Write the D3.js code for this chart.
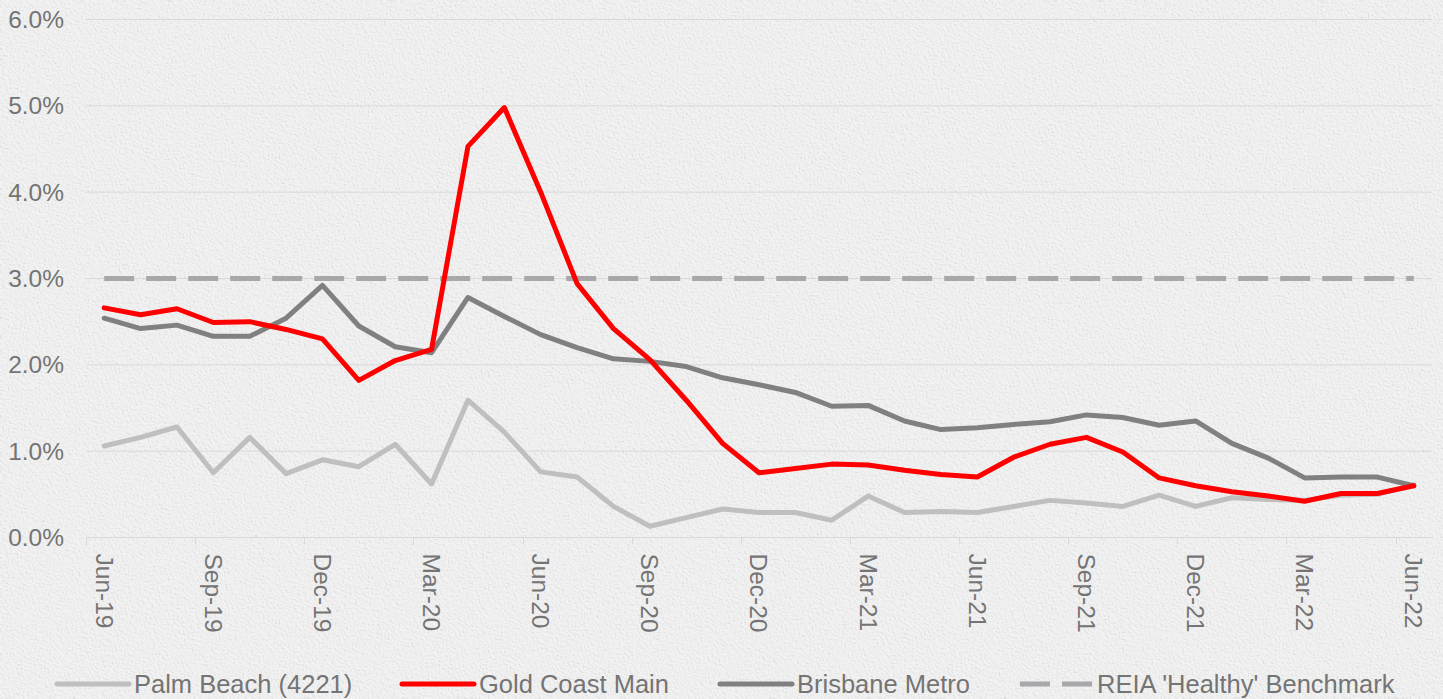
<!DOCTYPE html>
<html>
<head>
<meta charset="utf-8">
<script src="https://cdn.jsdelivr.net/npm/d3@7/dist/d3.min.js"></script>
<style>
  html, body { margin: 0; padding: 0; background: #eeeeee; }
  #chart { width: 1443px; height: 699px; }
  text { font-family: "Liberation Sans", Arial, sans-serif; }
</style>
</head>
<body>
<div id="chart"></div>
<script>
// months (categories)
var months = [
  "Jun-19", "Jul-19", "Aug-19", "Sep-19", "Oct-19", "Nov-19", "Dec-19", "Jan-20", "Feb-20",
  "Mar-20", "Apr-20", "May-20", "Jun-20", "Jul-20", "Aug-20", "Sep-20", "Oct-20", "Nov-20",
  "Dec-20", "Jan-21", "Feb-21", "Mar-21", "Apr-21", "May-21", "Jun-21", "Jul-21", "Aug-21",
  "Sep-21", "Oct-21", "Nov-21", "Dec-21", "Jan-22", "Feb-22", "Mar-22", "Apr-22", "May-22",
  "Jun-22"
];

// labels shown on the axis (every quarter)
var tickLabels = ["Jun-19", "Sep-19", "Dec-19", "Mar-20", "Jun-20", "Sep-20", "Dec-20",
  "Mar-21", "Jun-21", "Sep-21", "Dec-21", "Mar-22", "Jun-22"];

var yTicks = [0, 1, 2, 3, 4, 5, 6];

// vacancy rates, %
var palmBeach = [1.06, 1.16, 1.28, 0.75, 1.16, 0.74, 0.90, 0.82, 1.08, 0.62, 1.59, 1.22, 0.76,
  0.70, 0.36, 0.13, 0.23, 0.33, 0.29, 0.29, 0.20, 0.48, 0.29, 0.30, 0.29, 0.36, 0.43, 0.40,
  0.36, 0.49, 0.36, 0.46, 0.44, 0.43, 0.49, 0.50, 0.61];

var goldCoast = [2.66, 2.58, 2.65, 2.49, 2.50, 2.41, 2.30, 1.82, 2.05, 2.18, 4.53, 4.98, 4.00,
  2.94, 2.42, 2.06, 1.59, 1.09, 0.75, 0.80, 0.85, 0.84, 0.78, 0.73, 0.70, 0.93, 1.08, 1.16,
  0.99, 0.69, 0.60, 0.53, 0.48, 0.42, 0.51, 0.51, 0.60];

var brisbane = [2.54, 2.42, 2.46, 2.33, 2.33, 2.54, 2.92, 2.45, 2.21, 2.14, 2.78, 2.56, 2.35,
  2.20, 2.07, 2.04, 1.98, 1.85, 1.77, 1.68, 1.52, 1.53, 1.35, 1.25, 1.27, 1.31, 1.34, 1.42,
  1.39, 1.30, 1.35, 1.09, 0.92, 0.69, 0.70, 0.70, 0.60];

var benchmark = months.map(function () { return 3.0; });

var seriesNames = ["Palm Beach (4221)", "Gold Coast Main", "Brisbane Metro", "REIA 'Healthy' Benchmark"];

var width = 1443, height = 699;
var margin = { top: 19.5, right: 11, bottom: 161.5, left: 86 };

var svg = d3.select("#chart")
  .append("svg")
  .attr("width", width)
  .attr("height", height)
  .attr("viewBox", [0, 0, width, height]);

// stucco-like background
var defs = svg.append("defs");
var f = defs.append("filter").attr("id", "paper")
  .attr("x", 0).attr("y", 0).attr("width", "100%").attr("height", "100%");
f.append("feTurbulence").attr("type", "fractalNoise").attr("baseFrequency", 0.55)
  .attr("numOctaves", 4).attr("seed", 3).attr("result", "noise");
f.append("feDiffuseLighting").attr("in", "noise").attr("lighting-color", "#ffffff")
  .attr("surfaceScale", 1.6).attr("result", "lit")
  .append("feDistantLight").attr("azimuth", 135).attr("elevation", 62);

svg.append("rect").attr("width", width).attr("height", height).attr("fill", "#efefef");
svg.append("rect").attr("width", width).attr("height", height)
  .attr("filter", "url(#paper)").attr("opacity", 0.3);

var x = d3.scaleBand()
  .domain(months)
  .range([margin.left, width - margin.right])
  .padding(0);

var y = d3.scaleLinear()
  .domain([0, 6])
  .range([height - margin.bottom, margin.top]);

var cx = function (m) { return x(m) + x.bandwidth() / 2; };

// gridlines
svg.append("g")
  .selectAll("line")
  .data(yTicks)
  .join("line")
  .attr("x1", margin.left)
  .attr("x2", width - margin.right)
  .attr("y1", function (d) { return y(d); })
  .attr("y2", function (d) { return y(d); })
  .attr("stroke", "#d9d9d9")
  .attr("stroke-width", 1);

// y labels
svg.append("g")
  .selectAll("text")
  .data(yTicks)
  .join("text")
  .attr("x", 64)
  .attr("y", function (d) { return y(d); })
  .attr("dy", "0.35em")
  .attr("text-anchor", "end")
  .attr("fill", "#747474")
  .attr("font-size", 24.5)
  .text(function (d) { return d3.format(".1f")(d) + "%"; });

// x axis tick marks at quarter band edges
svg.append("g")
  .selectAll("line")
  .data(tickLabels)
  .join("line")
  .attr("x1", function (d) { return Math.round(x(d)) + 0.5; })
  .attr("x2", function (d) { return Math.round(x(d)) + 0.5; })
  .attr("y1", y(0))
  .attr("y2", y(0) + 7)
  .attr("stroke", "#d9d9d9");

// x labels, rotated
var xAxis = d3.axisBottom(x).tickValues(tickLabels).tickSize(0).tickPadding(0);
var gx = svg.append("g")
  .attr("transform", "translate(0," + (y(0) + 16) + ")")
  .call(xAxis);
gx.select(".domain").remove();
gx.selectAll("text")
  .attr("transform", "rotate(90)")
  .attr("x", 0)
  .attr("y", 0)
  .attr("dy", "0.35em")
  .attr("text-anchor", "start")
  .attr("fill", "#747474")
  .attr("font-size", 24.5)
  .attr("font-family", "Liberation Sans, Arial, sans-serif");

// lines
var line = d3.line()
  .x(function (d, i) { return cx(months[i]); })
  .y(function (d) { return y(d); });

var series = [
  { name: seriesNames[3], values: benchmark, color: "#a8a8ab", dash: "30,12" },
  { name: seriesNames[0], values: palmBeach, color: "#bfbfbf", dash: null },
  { name: seriesNames[2], values: brisbane, color: "#808080", dash: null },
  { name: seriesNames[1], values: goldCoast, color: "#ff0000", dash: null }
];

svg.append("g")
  .selectAll("path")
  .data(series)
  .join("path")
  .attr("d", function (d) { return line(d.values); })
  .attr("fill", "none")
  .attr("stroke", function (d) { return d.color; })
  .attr("stroke-width", 5)
  .attr("stroke-linejoin", "round")
  .attr("stroke-linecap", function (d) { return d.dash ? "butt" : "round"; })
  .attr("stroke-dasharray", function (d) { return d.dash; });

// legend
var legendItems = [
  { name: seriesNames[0], color: "#bfbfbf", dash: null, x: 57 },
  { name: seriesNames[1], color: "#ff0000", dash: null, x: 402 },
  { name: seriesNames[2], color: "#808080", dash: null, x: 720 },
  { name: seriesNames[3], color: "#a8a8ab", dash: "30,12", x: 1020 }
];

var lg = svg.append("g").attr("transform", "translate(0,684)");
var li = lg.selectAll("g")
  .data(legendItems)
  .join("g")
  .attr("transform", function (d) { return "translate(" + d.x + ",0)"; });
li.append("line")
  .attr("x1", 0).attr("x2", 72)
  .attr("stroke", function (d) { return d.color; })
  .attr("stroke-width", 5)
  .attr("stroke-linecap", function (d) { return d.dash ? "butt" : "round"; })
  .attr("stroke-dasharray", function (d) { return d.dash; });
li.append("text")
  .attr("x", 77)
  .attr("dy", "0.35em")
  .attr("fill", "#747474")
  .attr("font-size", 25.5)
  .text(function (d) { return d.name; });
</script>
</body>
</html>
